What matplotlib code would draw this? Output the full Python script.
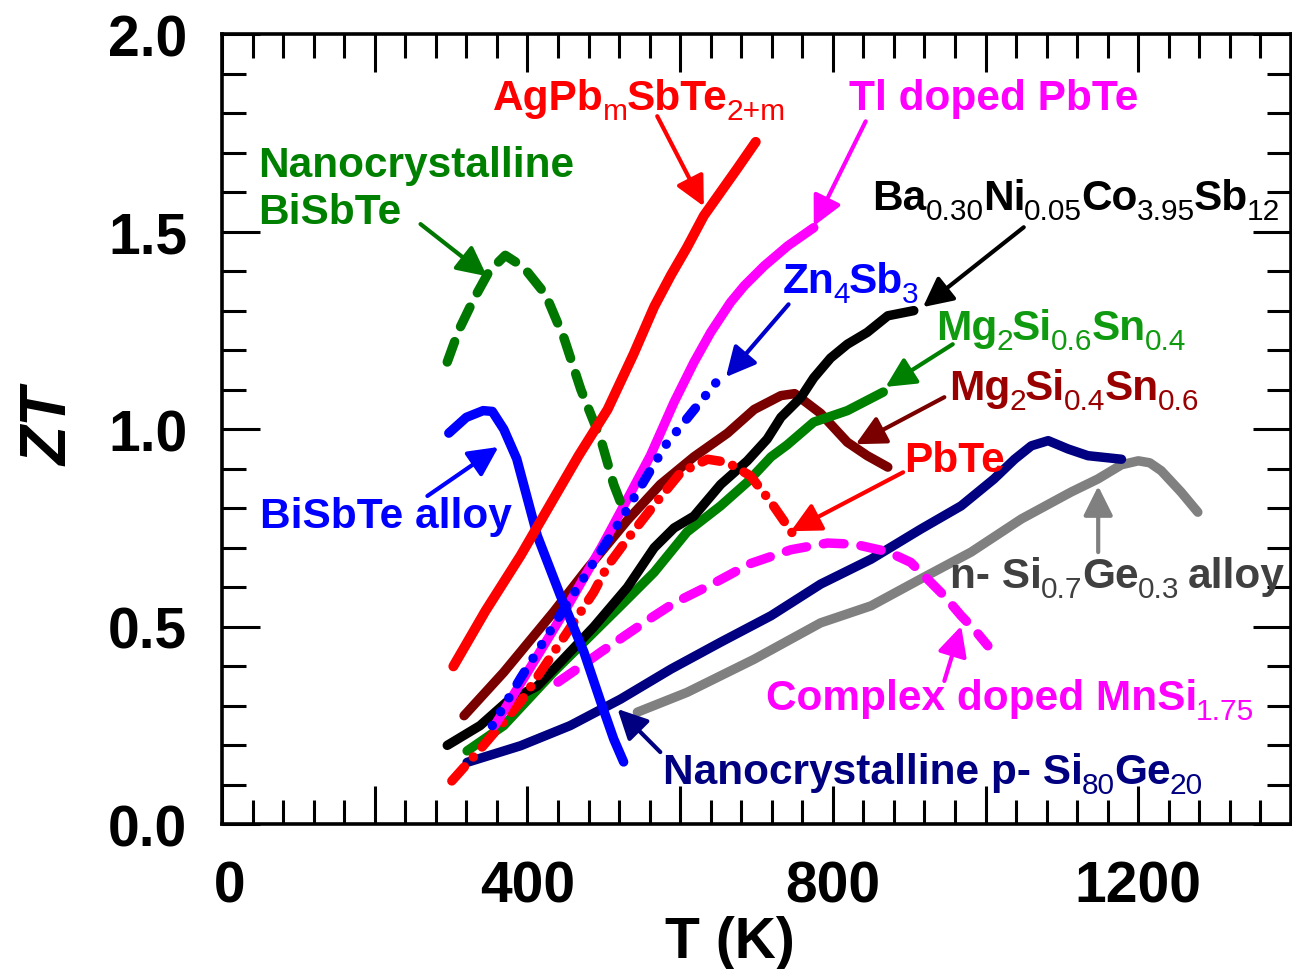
import matplotlib
matplotlib.use("Agg")
import matplotlib.pyplot as plt
from matplotlib.ticker import MultipleLocator, FuncFormatter
from matplotlib.transforms import offset_copy

plt.rcParams["font.family"] = ["Liberation Sans", "DejaVu Sans"]

# ---- ZT(T) curves -------------------------------------------------------
agpb_T = [303, 345, 391, 430, 467, 505, 539, 566, 588, 609, 631, 653, 675, 699]
agpb_ZT = [0.40, 0.54, 0.68, 0.81, 0.933, 1.05, 1.19, 1.31, 1.39, 1.46, 1.54, 1.60, 1.66, 1.727]

tl_pbte_T = [357, 400, 448, 498, 530, 561, 592, 618, 640, 666, 684, 710, 741, 775]
tl_pbte_ZT = [0.25, 0.385, 0.537, 0.705, 0.82, 0.933, 1.068, 1.169, 1.245, 1.321, 1.363, 1.413, 1.464, 1.51]

zn4sb3_T = [354, 391, 456, 522, 581, 647]
zn4sb3_ZT = [0.25, 0.37, 0.57, 0.77, 0.96, 1.118]

pbte_T = [301, 338, 391, 452, 487, 505, 531, 565, 601, 636, 662, 692, 719, 748]
pbte_ZT = [0.11, 0.19, 0.31, 0.486, 0.588, 0.654, 0.722, 0.806, 0.891, 0.924, 0.916, 0.882, 0.815, 0.734]

nano_bisbte_T = [295, 310, 330, 350, 371, 395, 424, 448, 470, 496, 513, 525]
nano_bisbte_ZT = [1.17, 1.25, 1.33, 1.40, 1.44, 1.41, 1.34, 1.23, 1.10, 0.975, 0.86, 0.80]

bisbte_alloy_T = [297, 320, 342, 354, 369, 386, 395, 413, 443, 474, 496, 513, 526]
bisbte_alloy_ZT = [0.99, 1.03, 1.047, 1.045, 1.0, 0.925, 0.86, 0.73, 0.58, 0.436, 0.31, 0.216, 0.158]

skutt_T = [295, 338, 373, 413, 443, 487, 531, 566, 592, 618, 653, 688, 714, 732,
           758, 775, 797, 819, 845, 872, 906]
skutt_ZT = [0.20, 0.25, 0.31, 0.35, 0.41, 0.50, 0.60, 0.70, 0.75, 0.78, 0.86, 0.92, 0.975, 1.03,
            1.08, 1.13, 1.18, 1.215, 1.245, 1.287, 1.30]

mg_sn04_T = [321, 369, 434, 478, 522, 566, 609, 653, 688, 719, 740, 775, 819, 866]
mg_sn04_ZT = [0.186, 0.25, 0.385, 0.469, 0.553, 0.638, 0.74, 0.806, 0.866, 0.93, 0.96, 1.018, 1.047, 1.094]

mg_sn06_T = [317, 369, 434, 478, 531, 574, 618, 662, 697, 732, 750, 784, 819, 845, 872]
mg_sn06_ZT = [0.275, 0.385, 0.537, 0.646, 0.77, 0.86, 0.93, 0.99, 1.05, 1.085, 1.09, 1.04, 0.967, 0.933, 0.904]

mnsi_T = [440, 470, 496, 522, 560, 592, 644, 692, 745, 793, 828, 872, 902, 928, 946, 968, 985, 1003]
mnsi_ZT = [0.36, 0.40, 0.436, 0.47, 0.52, 0.56, 0.61, 0.66, 0.695, 0.712, 0.709, 0.69, 0.663,
           0.613, 0.578, 0.528, 0.494, 0.452]

p_sige_T = [321, 391, 456, 522, 588, 653, 719, 784, 850, 915, 968, 1011, 1038, 1060, 1082,
            1108, 1134, 1178]
p_sige_ZT = [0.157, 0.199, 0.25, 0.317, 0.393, 0.461, 0.528, 0.608, 0.671, 0.747, 0.806, 0.874,
             0.924, 0.958, 0.971, 0.95, 0.933, 0.924]

n_sige_T = [544, 609, 697, 784, 850, 915, 981, 1047, 1112, 1147, 1178, 1200, 1215, 1230, 1256, 1278]
n_sige_ZT = [0.284, 0.334, 0.418, 0.51, 0.553, 0.621, 0.689, 0.773, 0.841, 0.874, 0.91, 0.92,
             0.915, 0.895, 0.841, 0.79]

x_ticks_labelled = [0, 400, 800, 1200]

# ---- figure ----------------------------------------------------------------
fig = plt.figure(figsize=(12.92, 9.70), dpi=100)
ax = fig.add_axes([222 / 1292, 144.6 / 970, 1069 / 1292, 790.4 / 970])

LW = 6.8
common = dict(solid_capstyle="round", dash_capstyle="round", solid_joinstyle="round")

ax.plot(n_sige_T, n_sige_ZT, color="#808080", lw=LW, **common)
ax.plot(p_sige_T, p_sige_ZT, color="#000080", lw=LW, **common)
ax.plot(mnsi_T, mnsi_ZT, color="#FF00FF", lw=LW, linestyle=(0, (2.2, 1.8)), **common)
ax.plot(mg_sn06_T, mg_sn06_ZT, color="#7A0000", lw=LW, **common)
ax.plot(mg_sn04_T, mg_sn04_ZT, color="#008000", lw=LW, **common)
ax.plot(skutt_T, skutt_ZT, color="#000000", lw=LW, **common)
ax.plot(pbte_T, pbte_ZT, color="#FF0000", lw=LW, linestyle=(0, (2.0, 1.4, 0.01, 1.4)), **common)
ax.plot(tl_pbte_T, tl_pbte_ZT, color="#FF00FF", lw=LW, **common)
ax.plot(zn4sb3_T, zn4sb3_ZT, color="#0000FF", lw=LW,
        linestyle=(0, (0.01, 1.7, 0.01, 1.7, 0.01, 1.7, 1.5, 1.7)), **common)
ax.plot(nano_bisbte_T, nano_bisbte_ZT, color="#007700", lw=LW, linestyle=(0, (2.3, 1.7)), **common)
ax.plot(bisbte_alloy_T, bisbte_alloy_ZT, color="#0000FF", lw=LW, **common)
ax.plot(agpb_T, agpb_ZT, color="#FF0000", lw=7.2, **common)

# ---- axes styling -----------------------------------------------------------
ax.set_xlim(0, 1400)
ax.set_ylim(0, 2.0)
ax.xaxis.set_major_locator(MultipleLocator(200))
ax.xaxis.set_minor_locator(MultipleLocator(40))
ax.yaxis.set_major_locator(MultipleLocator(0.5))
ax.yaxis.set_minor_locator(MultipleLocator(0.1))


def x_fmt(v, _):
    iv = int(round(v))
    if iv not in x_ticks_labelled:
        return ""
    return " 0" if iv == 0 else f"{iv}"


ax.xaxis.set_major_formatter(FuncFormatter(x_fmt))
ax.yaxis.set_major_formatter(FuncFormatter(lambda v, _: f"{v:.1f}"))
ax.tick_params(which="both", direction="in", top=True, right=True, width=2.2)
ax.tick_params(which="major", length=27.5, pad=25, labelsize=41)
ax.tick_params(which="minor", length=17.3)
for lab in ax.get_xticklabels() + ax.get_yticklabels():
    lab.set_fontweight("bold")
for sp in ax.spines.values():
    sp.set_linewidth(2.6)

fig.text(730 / 1292, 12 / 970, "T (K)", ha="center", va="baseline",
         fontsize=41, fontweight="bold")
fig.text(50 / 1292, 1 - 427 / 970, "ZT", ha="center", va="center", rotation=90,
         fontsize=46, fontweight="bold", fontstyle="italic")

# ---- labels with arrows -----------------------------------------------------
FS = 30.5          # main label size (pt)
SUB_FS = 21.5      # subscript size (pt)
SUB_DROP = 10      # subscript baseline drop (px)
renderer = fig.canvas.get_renderer()
space_px = 0.22 * FS * fig.dpi / 72


def label(x, y, parts, color):
    """Draw a chemical formula piece by piece; parts are (text, is_subscript)."""
    dx = 0.0
    for s, sub in parts:
        if s.startswith(" "):
            dx += space_px
            s = s.lstrip()
        tr = offset_copy(ax.transData, fig=fig, x=dx, y=-SUB_DROP if sub else 0, units="dots")
        t = ax.text(x, y, s, color=color, fontsize=SUB_FS if sub else FS,
                    fontweight="normal" if sub else "bold",
                    ha="left", va="baseline", transform=tr)
        dx += t.get_window_extent(renderer).width - 1.0


def arrow(tail, head, color):
    ax.annotate("", xy=head, xytext=tail,
                arrowprops=dict(arrowstyle="-|>,head_length=0.6,head_width=0.3", lw=3,
                                color=color, shrinkA=0, shrinkB=0, mutation_scale=30))


label(355, 1.81, [("AgPb", 0), ("m", 1), ("SbTe", 0), ("2+m", 1)], "#FF0000")
arrow((570, 1.792), (631, 1.564), "#FF0000")

label(821, 1.81, [("Tl doped PbTe", 0)], "#FF00FF")
arrow((843, 1.779), (775, 1.514), "#FF00FF")

label(47, 1.641, [("Nanocrystalline", 0)], "#008000")
label(47, 1.521, [("BiSbTe", 0)], "#008000")
arrow((260, 1.519), (347, 1.387), "#007700")

label(852, 1.557, [("Ba", 0), ("0.30", 1), ("Ni", 0), ("0.05", 1),
                   ("Co", 0), ("3.95", 1), ("Sb", 0), ("12", 1)], "#000000")
arrow((1050, 1.511), (918, 1.309), "#000000")

label(734, 1.346, [("Zn", 0), ("4", 1), ("Sb", 0), ("3", 1)], "#0000FF")
arrow((742, 1.316), (660, 1.132), "#0000CC")

label(935, 1.228, [("Mg", 0), ("2", 1), ("Si", 0), ("0.6", 1), ("Sn", 0), ("0.4", 1)], "#109A10")
arrow((957, 1.215), (869, 1.107), "#008000")

label(952, 1.076, [("Mg", 0), ("2", 1), ("Si", 0), ("0.4", 1), ("Sn", 0), ("0.6", 1)], "#990000")
arrow((946, 1.081), (830, 0.962), "#7A0000")

label(893, 0.895, [("PbTe", 0)], "#FF0000")
arrow((892, 0.891), (745, 0.742), "#FF0000")

label(50, 0.752, [("BiSbTe alloy", 0)], "#0000FF")
arrow((269, 0.831), (362, 0.955), "#0000FF")

label(954, 0.60, [("n- Si", 0), ("0.7", 1), ("Ge", 0), ("0.3", 1), (" alloy", 0)], "#404040")
arrow((1147.5, 0.689), (1147.5, 0.856), "#808080")

label(712, 0.292, [("Complex doped MnSi", 0), ("1.75", 1)], "#FF00FF")
arrow((946, 0.363), (968, 0.502), "#FF00FF")

label(578, 0.106, [("Nanocrystalline p- Si", 0), ("80", 1), ("Ge", 0), ("20", 1)], "#000080")
arrow((574, 0.183), (518, 0.292), "#000080")

fig.savefig("out.png", dpi=100)
